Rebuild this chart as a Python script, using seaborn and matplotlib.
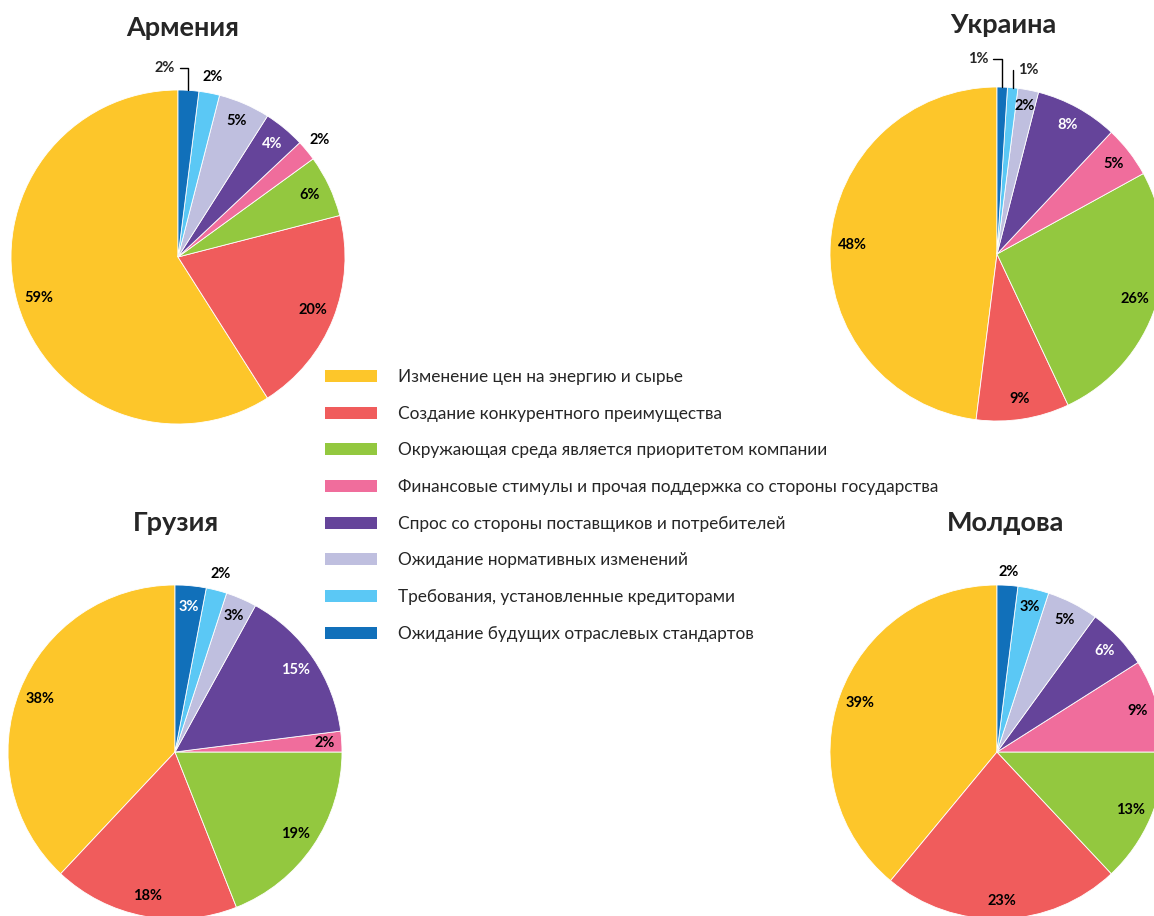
import numpy as np
import matplotlib
matplotlib.use("Agg")
import matplotlib.pyplot as plt
from matplotlib.patches import Patch
import seaborn as sns

categories = [
    "Изменение цен на энергию и сырье",
    "Создание конкурентного преимущества",
    "Окружающая среда является приоритетом компании",
    "Финансовые стимулы и прочая поддержка со стороны государства",
    "Спрос со стороны поставщиков и потребителей",
    "Ожидание нормативных изменений",
    "Требования, установленные кредиторами",
    "Ожидание будущих отраслевых стандартов",
]
countries = ["Армения", "Украина", "Грузия", "Молдова"]
armenia = [59, 20, 6, 2, 4, 5, 2, 2]
ukraine = [48, 9, 26, 5, 8, 2, 1, 1]
georgia = [38, 18, 19, 2, 15, 3, 2, 3]
moldova = [39, 23, 13, 9, 6, 5, 3, 2]
values = [armenia, ukraine, georgia, moldova]

colors = ["#FDC62A", "#F05C5C", "#93C83F", "#F06D9C",
          "#65449A", "#BFBFDF", "#5BC8F5", "#1170BA"]

sns.set_theme(style="white")
plt.rcParams["font.family"] = ["Lato", "DejaVu Sans"]

W, H = 1154, 916
fig = plt.figure(figsize=(W / 100, H / 100), dpi=100)

# pie centre (px) and radius
centers = [(178, 257), (997, 254), (175, 752), (997, 752)]
R = 167
title_dx = [0.03, 0.035, 0.005, 0.05]

# label distance per slice, as fraction of radius
label_dist = [
    [0.87, 0.87, 0.87, 1.10, 0.88, 0.89, 1.10, None],
    [0.87, 0.88, 0.87, 0.88, 0.88, 0.90, None, None],
    [0.87, 0.88, 0.87, 0.90, 0.87, 0.89, 1.10, 0.87],
    [0.87, 0.89, 0.87, 0.88, 0.88, 0.89, 0.89, 1.08],
]
# labels with elbow leader lines: (pie, slice) -> text position
leaders = {(0, 7): (-0.078, 1.13), (1, 7): (-0.114, 1.17), (1, 6): (0.186, 1.10)}

for k, (cx, cy) in enumerate(centers):
    ax = fig.add_axes([(cx - R) / W, (H - cy - R) / H, 2 * R / W, 2 * R / H])
    wedges, _ = ax.pie(values[k], colors=colors, startangle=90, counterclock=True,
                       wedgeprops=dict(edgecolor="white", linewidth=0.6))
    ax.set_xlim(-1, 1)
    ax.set_ylim(-1, 1)
    ax.set_aspect("equal")
    ax.axis("off")
    for i, w in enumerate(wedges):
        a = np.deg2rad((w.theta1 + w.theta2) / 2)
        txt = f"{values[k][i]}%"
        if (k, i) in leaders:
            ax.annotate(txt, xy=(np.cos(a), np.sin(a)), xytext=leaders[(k, i)],
                        ha="center", va="center", fontsize=10.5, fontweight="bold",
                        arrowprops=dict(arrowstyle="-", color="black", lw=1,
                                        shrinkA=1, shrinkB=0,
                                        connectionstyle="angle,angleA=0,angleB=90,rad=0"))
            continue
        d = label_dist[k][i]
        col = "black"
        if d < 1 and i in (4, 7):
            col = "white"
        ax.text(d * np.cos(a), d * np.sin(a), txt, ha="center", va="center",
                fontsize=10.5, fontweight="bold", color=col)
    ax.text(title_dx[k], 1.37, countries[k], ha="center", va="center",
            fontsize=19.5, fontweight="bold")

fs = 12.4
fs_px = fs * 100 / 72
handles = [Patch(facecolor=c, edgecolor="none") for c in colors]
fig.legend(handles, categories, loc="upper left",
           bbox_to_anchor=(325 / W, 1 - 369 / H), frameon=False, fontsize=fs,
           borderpad=0, borderaxespad=0, handlelength=52 / fs_px,
           handleheight=12 / fs_px, handletextpad=21 / fs_px,
           labelspacing=1.2)

fig.savefig("out.png", dpi=100)
